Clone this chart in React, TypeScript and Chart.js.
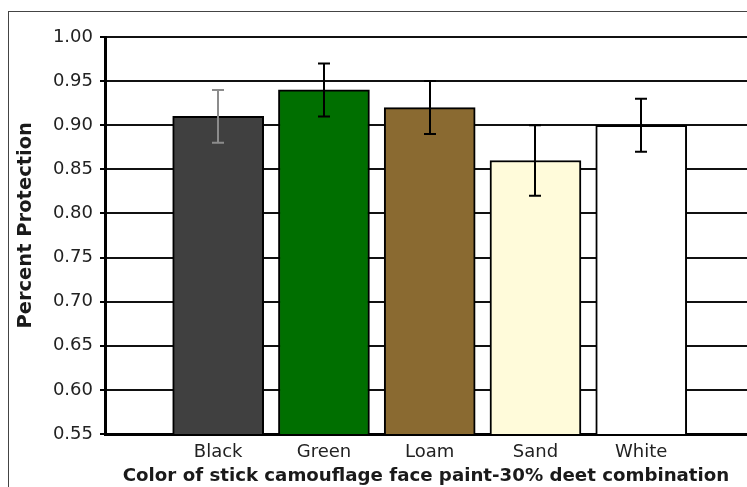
import React, { useEffect, useRef } from 'react';
import { Chart, registerables } from 'chart.js';

Chart.register(...registerables);

const categories = ['Black', 'Green', 'Loam', 'Sand', 'White'];
const categoryPositions = [1, 2, 3, 4, 5];
const protection = [0.91, 0.94, 0.92, 0.86, 0.9];
const errorLow = [0.88, 0.91, 0.89, 0.82, 0.87];
const errorHigh = [0.94, 0.97, 0.95, 0.9, 0.93];
const barColors = ['#404040', '#006f00', '#8a6a31', '#fffbda', '#ffffff'];
const errorColors = ['#8c8c8c', '#000000', '#000000', '#000000', '#000000'];
const yTicks = [0.55, 0.6, 0.65, 0.7, 0.75, 0.8, 0.85, 0.9, 0.95, 1.0];

const errorBarPlugin = {
  id: 'errorBars',
  afterDatasetsDraw(chart: any) {
    const { ctx } = chart;
    const y = chart.scales.y;
    const meta = chart.getDatasetMeta(0);
    ctx.save();
    meta.data.forEach((bar: any, i: number) => {
      const px = Math.round(bar.x);
      const yl = y.getPixelForValue(errorLow[i]);
      const yh = y.getPixelForValue(errorHigh[i]);
      ctx.strokeStyle = errorColors[i];
      ctx.lineWidth = 2;
      ctx.beginPath();
      ctx.moveTo(px, yl);
      ctx.lineTo(px, yh);
      ctx.moveTo(px - 6, yl);
      ctx.lineTo(px + 6, yl);
      ctx.moveTo(px - 6, yh);
      ctx.lineTo(px + 6, yh);
      ctx.stroke();
    });
    ctx.restore();
  },
};

export default function App() {
  const canvasRef = useRef<HTMLCanvasElement | null>(null);

  useEffect(() => {
    const canvas = canvasRef.current;
    if (!canvas) return;
    const chart = new Chart(canvas, {
      type: 'bar',
      data: {
        datasets: [
          {
            data: categoryPositions.map((x, i) => ({ x, y: protection[i] })),
            backgroundColor: barColors,
            borderColor: '#000000',
            borderWidth: 2,
            borderSkipped: false,
            barThickness: 91,
            clip: 0,
          } as any,
        ],
      },
      options: {
        animation: false,
        responsive: false,
        devicePixelRatio: 1,
        layout: { padding: { top: 37, left: 0, right: 0, bottom: 0 } },
        plugins: { legend: { display: false }, tooltip: { enabled: false } },
        scales: {
          x: {
            type: 'linear',
            min: -0.07,
            max: 6.0,
            offset: false,
            z: 1,
            grid: { display: false, drawTicks: false, offset: false },
            border: { display: true, color: '#000000', width: 3 },
            afterBuildTicks: (axis: any) => {
              axis.ticks = categoryPositions.map((v) => ({ value: v }));
            },
            afterFit: (s: any) => {
              s.height = 53;
            },
            ticks: {
              autoSkip: false,
              maxRotation: 0,
              padding: 8,
              color: '#222222',
              font: { family: 'DejaVu Sans', size: 18 },
              callback: (v: any) => categories[categoryPositions.indexOf(Number(v))] ?? '',
            },
            title: {
              display: true,
              text: 'Color of stick camouflage face paint-30% deet combination',
              color: '#1a1a1a',
              font: { family: 'DejaVu Sans', size: 18.2, weight: 'bold' },
              padding: { top: 0, bottom: 0 },
            },
          },
          y: {
            min: 0.55,
            max: 1.0,
            afterBuildTicks: (axis: any) => {
              axis.ticks = yTicks.map((v) => ({ value: v }));
            },
            afterFit: (s: any) => {
              s.width = 105;
            },
            grid: {
              color: '#111111',
              lineWidth: 2,
              tickLength: 5,
              tickColor: '#000000',
              tickWidth: 2,
            },
            border: { display: true, color: '#000000', width: 3 },
            ticks: {
              padding: 7,
              color: '#222222',
              font: { family: 'DejaVu Sans', size: 18 },
              callback: (v: any) => Number(v).toFixed(2),
            },
            title: {
              display: true,
              text: '   Percent Protection',
              color: '#1a1a1a',
              font: { family: 'DejaVu Sans', size: 19.5, weight: 'bold' },
              padding: { top: 14, bottom: 0 },
            },
          },
        },
      } as any,
      plugins: [errorBarPlugin],
    });
    return () => chart.destroy();
  }, []);

  return (
    <div
      style={{
        position: 'fixed',
        left: 0,
        top: 0,
        width: 747,
        height: 487,
        overflow: 'hidden',
        background: '#ffffff',
      }}
    >
      <div
        style={{
          position: 'absolute',
          left: 8,
          top: 11,
          width: 800,
          height: 600,
          borderTop: '1px solid #444',
          borderLeft: '1px solid #444',
        }}
      />
      <canvas
        ref={canvasRef}
        width={747}
        height={487}
        style={{ position: 'absolute', left: 0, top: 0, width: 747, height: 487 }}
      />
    </div>
  );
}
